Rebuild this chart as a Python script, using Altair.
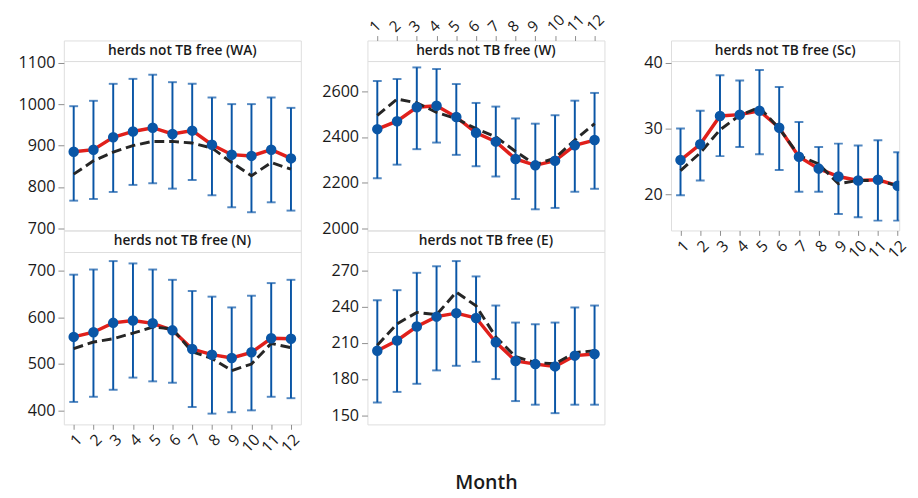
import altair as alt
import pandas as pd

months = list(range(1, 13))

# herds not TB free (WA)
wa_mean = [885, 890, 920, 934, 943, 928, 936, 902, 878, 875, 890, 869]
wa_upper = [995, 1008, 1049, 1061, 1071, 1053, 1049, 1016, 1000, 1000, 1016, 991]
wa_lower = [767, 771, 788, 805, 809, 796, 817, 780, 751, 739, 763, 743]
wa_fit = [831, 863, 884, 900, 910, 910, 906, 894, 859, 827, 859, 843]

# herds not TB free (N)
n_mean = [558, 568, 588, 593, 587, 572, 532, 520, 513, 525, 555, 554]
n_upper = [691, 702, 720, 715, 702, 680, 656, 644, 621, 646, 673, 680]
n_lower = [419, 430, 445, 471, 463, 460, 408, 394, 397, 401, 430, 427]
n_fit = [533, 547, 554, 566, 579, 575, 526, 512, 486, 500, 544, 535]

# herds not TB free (W)
w_mean = [2435, 2470, 2531, 2538, 2488, 2419, 2380, 2304, 2276, 2296, 2364, 2387]
w_upper = [2646, 2655, 2706, 2699, 2633, 2550, 2534, 2482, 2459, 2496, 2560, 2594]
w_lower = [2219, 2279, 2347, 2376, 2322, 2272, 2227, 2128, 2083, 2089, 2160, 2173]
w_fit = [2495, 2567, 2550, 2509, 2481, 2437, 2401, 2337, 2279, 2308, 2387, 2459]

# herds not TB free (E)
e_mean = [203.5, 212, 223.5, 231.7, 234.6, 230.6, 210.5, 195, 192.4, 190.5, 199.4, 200.8]
e_upper = [245.2, 253.6, 268, 273.4, 277.7, 265, 240.9, 226.8, 225.4, 226.8, 239.3, 240.9]
e_lower = [160.7, 169.4, 176.1, 187.2, 191, 194.3, 180, 161.8, 158.8, 151.8, 158.8, 158.8]
e_fit = [208, 225.7, 235.2, 233.3, 252, 240.6, 214.9, 198.6, 193.7, 192.7, 201.9, 203.5]

# herds not TB free (Sc)
sc_mean = [25.2, 27.6, 31.9, 32.1, 32.7, 30.1, 25.7, 23.9, 22.7, 22.1, 22.2, 21.3]
sc_upper = [30.0, 32.7, 38.1, 37.3, 38.9, 36.3, 31.0, 27.2, 27.7, 27.4, 28.2, 26.4]
sc_lower = [19.85, 22.1, 25.8, 27.2, 26.1, 23.7, 20.4, 20.4, 17.0, 16.5, 16.0, 16.0]
sc_fit = [23.6, 26.3, 29.8, 32.0, 33.2, 30.0, 25.9, 24.6, 21.6, 22.1, 22.1, 21.3]

FONT = "Open Sans"
BLUE = "#0a56a6"
RED = "#e0201b"
DARK = "#262626"
FRAME = "#a6a6a6"
TXT = "#1a1a1a"


def xaxis_none(title=None):
    if title:
        return alt.Axis(labels=False, ticks=False, domain=False, grid=False,
                        title=title, titleFontSize=20, titleFontWeight=600,
                        titleFont=FONT, titleColor=TXT, titlePadding=49)
    return alt.Axis(labels=False, ticks=False, domain=False, grid=False, title=None)


def xaxis_labels(orient, size=16, pad=2):
    return alt.Axis(values=months, orient=orient, labelAngle=315, domain=False,
                    grid=False, ticks=True, tickSize=5, tickColor="#8c8c8c",
                    labelFontSize=size, labelFont=FONT, labelColor=TXT,
                    labelPadding=pad, labelOverlap=False, labelBound=False,
                    title=None, format="d")


def plot(mean, upper, lower, fit, ydom, yvals, xdom, xaxis, width, height, clip=False):
    df = pd.DataFrame({"month": months, "mean": mean, "upper": upper,
                       "lower": lower, "fit": fit})
    xs = alt.Scale(domain=xdom, nice=False, zero=False)
    ys = alt.Scale(domain=ydom, nice=False, zero=False)
    yaxis = alt.Axis(values=yvals, domain=False, grid=False, ticks=True, tickSize=6,
                     tickColor="#8c8c8c", labelFontSize=16.5, labelFont=FONT,
                     labelColor=TXT, labelPadding=3, title=None, format="d")
    x = alt.X("month:Q", scale=xs, axis=xaxis)
    base = alt.Chart(df)
    bars = base.mark_rule(color=BLUE, strokeWidth=2, clip=clip).encode(
        x=x, y=alt.Y("lower:Q", scale=ys, axis=yaxis), y2="upper:Q")
    cap_hi = base.mark_tick(orient="horizontal", size=9, thickness=2, color=BLUE,
                            clip=clip).encode(x=x, y=alt.Y("upper:Q", scale=ys))
    cap_lo = base.mark_tick(orient="horizontal", size=9, thickness=2, color=BLUE,
                            clip=clip).encode(x=x, y=alt.Y("lower:Q", scale=ys))
    red = base.mark_line(color=RED, strokeWidth=3.5, clip=clip).encode(
        x=x, y=alt.Y("mean:Q", scale=ys))
    dash = base.mark_line(color=DARK, strokeWidth=3, strokeDash=[10, 5], clip=clip).encode(
        x=x, y=alt.Y("fit:Q", scale=ys))
    pts = base.mark_circle(color=BLUE, size=115, opacity=1, clip=clip).encode(
        x=x, y=alt.Y("mean:Q", scale=ys))
    return alt.layer(bars, cap_hi, cap_lo, red, dash, pts).properties(width=width, height=height)


def header(text, width, height, top_axis=None):
    txt = alt.Chart(pd.DataFrame({"t": [text]})).mark_text(
        font=FONT, fontSize=14, fontWeight=600, color=TXT, baseline="middle"
    ).encode(text="t:N", x=alt.value(width / 2), y=alt.value(height / 2))
    if top_axis is None:
        return txt.properties(width=width, height=height)
    xs = alt.Scale(domain=top_axis, nice=False, zero=False)
    ax = alt.Chart(pd.DataFrame({"month": months})).mark_tick(opacity=0).encode(
        x=alt.X("month:Q", scale=xs, axis=xaxis_labels("top", size=15.5, pad=1)))
    return alt.layer(ax, txt).properties(width=width, height=height)


def filler(width, height):
    return alt.Chart(pd.DataFrame({"t": [""]})).mark_text(opacity=0).encode(
        text="t:N").properties(width=width, height=height,
                               view=alt.ViewBackground(strokeOpacity=0))


W1 = 242
WS = 233
XD = [0.5, 12.5]

wa = plot(wa_mean, wa_upper, wa_lower, wa_fit, [695, 1104], [700, 800, 900, 1000, 1100],
          XD, xaxis_none(), W1, 173)
nn = plot(n_mean, n_upper, n_lower, n_fit, [371, 739.4], [400, 500, 600, 700],
          XD, xaxis_labels("bottom"), W1, 176)
ww = plot(w_mean, w_upper, w_lower, w_fit, [1990, 2734], [2000, 2200, 2400, 2600],
          XD, xaxis_none(), W1, 173)
ee = plot(e_mean, e_upper, e_lower, e_fit, [142.5, 285.2], [150, 180, 210, 240, 270],
          XD, xaxis_none("Month"), W1, 176)
sc = plot(sc_mean, sc_upper, sc_lower, sc_fit, [14.5, 40.25], [20, 30, 40],
          [0.52, 12.08], xaxis_labels("bottom"), WS, 173, clip=True)

cells = [
    header("herds not TB free (WA)", W1, 21),
    header("herds not TB free (W)", W1, 21, top_axis=XD),
    header("herds not TB free (Sc)", WS, 21),
    wa, ww, sc,
    header("herds not TB free (N)", W1, 22), header("herds not TB free (E)", W1, 22),
    filler(WS, 22),
    nn, ee,
]

chart = alt.concat(*cells, columns=3, spacing={"row": 0, "column": 68},
                   bounds="flush", align="each").resolve_scale(
    x="independent", y="independent"
).properties(
    padding={"left": 9, "top": -2, "right": 0, "bottom": 0}
).configure_view(
    stroke=FRAME, strokeWidth=1.5
).configure(background="white")

chart.save("out.html", embed_options={"renderer": "svg", "actions": False})
